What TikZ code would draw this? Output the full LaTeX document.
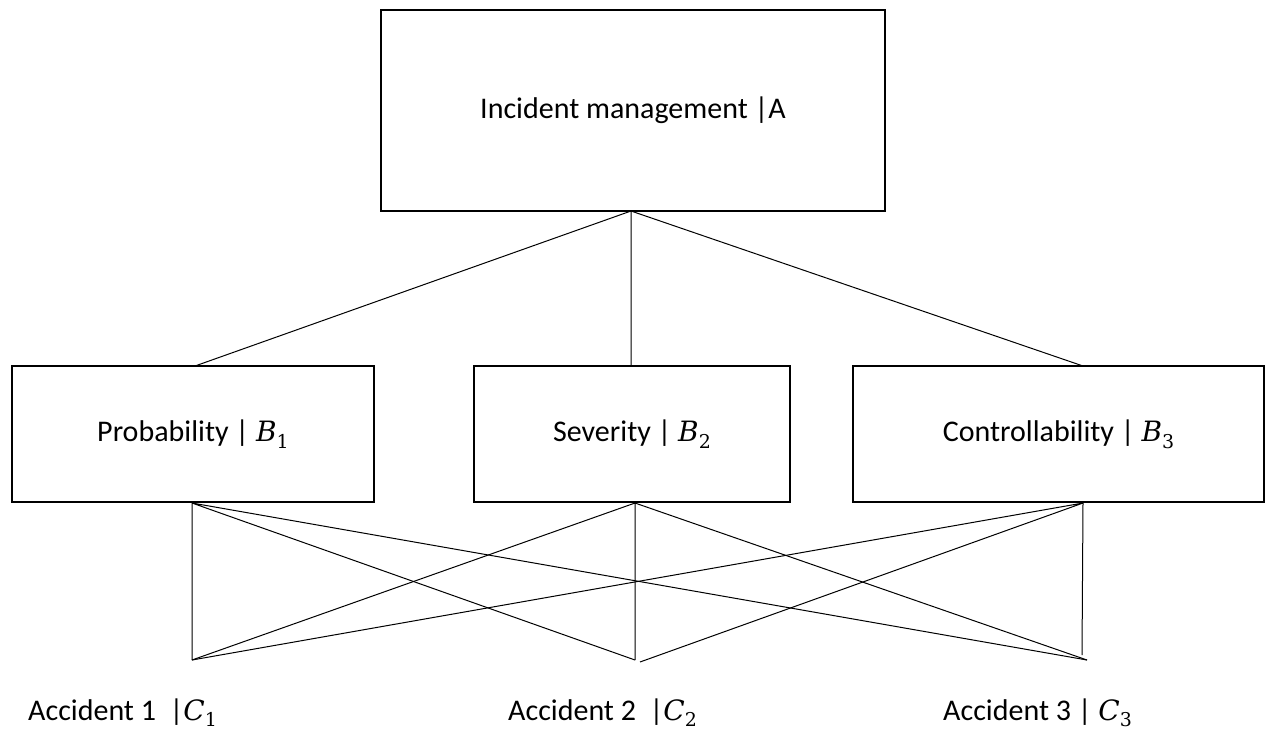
\documentclass[tikz,border=0pt]{standalone}
\usepackage{fontspec}
\setmainfont{Carlito}
\newfontfamily\mvfont{DejaVu Serif}
\newcommand\mvar[2]{{\mvfont\itshape\fontsize{28}{34}\selectfont #1}\raisebox{-0.22em}{\mvfont\fontsize{19}{22}\selectfont #2}}
\begin{document}
\begin{tikzpicture}[x=1pt,y=-1pt,
  box/.style={draw,line width=2pt,minimum width=#1,minimum height=136pt,inner sep=0pt,font=\fontsize{30}{36}\selectfont},
  link/.style={line width=1pt},
  lab/.style={anchor=base west,inner sep=0pt,font=\fontsize{30}{36}\selectfont}]
\useasboundingbox (0,0) rectangle (1266,729);
\node[box=504pt,minimum height=201pt] (A) at (633,110.5) {Incident management |A};
\node[box=362pt] (B1) at (193,434) {Probability | \mvar{B}{1}};
\node[box=316pt] (B2) at (632,434) {Severity | \mvar{B}{2}};
\node[box=411pt] (B3) at (1058.5,434) {Controllability | \mvar{B}{3}};
\coordinate (a) at (631,211);
\coordinate (t1) at (195,366);
\coordinate (t2) at (631,366);
\coordinate (t3) at (1083,366);
\coordinate (s1) at (192,503);
\coordinate (s2) at (635,503);
\coordinate (s3) at (1083,503);
\coordinate (c1) at (192,660);
\coordinate (c2) at (635,660);
\coordinate (c2b) at (640,662);
\coordinate (c3) at (1082,655);
\coordinate (c3b) at (1087,660);
\draw[link] (a) -- (t1) (a) -- (t2) (a) -- (t3);
\draw[link] (s1) -- (c1) (s1) -- (c2) (s1) -- (c3b);
\draw[link] (s2) -- (c1) (s2) -- (c2) (s2) -- (c3b);
\draw[link] (s3) -- (c1) (s3) -- (c2b) (s3) -- (c3);
\node[lab] (C1) at (28,720) {Accident 1\ \ |\mvar{C}{1}};
\node[lab] (C2) at (508,720) {Accident 2\ \ |\mvar{C}{2}};
\node[lab] (C3) at (943,720) {Accident 3 | \mvar{C}{3}};
\end{tikzpicture}
\end{document}
